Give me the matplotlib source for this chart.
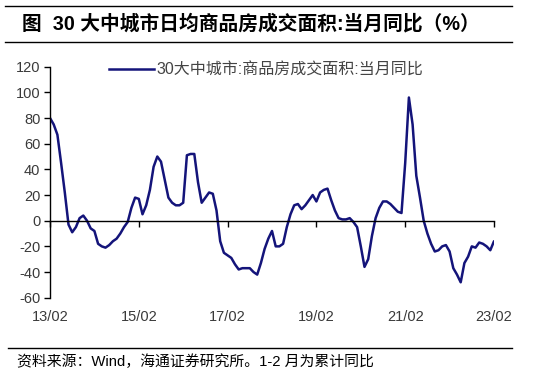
import matplotlib
matplotlib.use("Agg")
import matplotlib.pyplot as plt
from matplotlib.lines import Line2D

plt.rcParams['font.family'] = ['Liberation Sans', 'Noto Sans CJK SC', 'DejaVu Sans']

# monthly YoY (%), 2013-02 .. 2023-02
values = [80, 75, 67, 45, 22, -3, -9, -5, 2, 4, 0, -6, -8, -18, -20, -21, -19, -16, -14, -10,
          -5, -1, 10, 18, 17, 5, 12, 24, 42, 50, 46, 32, 18, 14, 12, 12, 14, 51, 52, 52,
          30, 14, 18, 22, 21, 8, -16, -25, -27, -29, -34, -38, -37, -37, -37, -40, -42, -33, -22, -14,
          -8, -20, -20, -18, -5, 5, 12, 13, 9, 12, 16, 20, 15, 22, 24, 25, 16, 8, 2, 1,
          1, 2, -1, -5, -20, -36, -30, -12, 2, 10, 15, 15, 13, 10, 7, 6, 45, 96, 75, 35,
          18, 0, -10, -18, -24, -23, -20, -19, -24, -37, -42, -48, -33, -28, -20, -21, -17, -18, -20, -23,
          -16]
tick_labels = ["13/02", "15/02", "17/02", "19/02", "21/02", "23/02"]
tick_pos = [0, 24, 48, 72, 96, 120]
yticks = [-60, -40, -20, 0, 20, 40, 60, 80, 100, 120]
series_name = "30大中城市:商品房成交面积:当月同比"
title = "图  30 大中城市日均商品房成交面积:当月同比（%）"
source = "资料来源：Wind，海通证券研究所。1-2 月为累计同比"

W, H = 549, 374
fig = plt.figure(figsize=(W / 100, H / 100), dpi=100)
ax = fig.add_axes([50 / W, 1 - 297.7 / H, (494 - 50) / W, (297.7 - 66.7) / H])

line_color = "#14147a"
ax.plot(range(len(values)), values, color=line_color, lw=1.8,
        solid_joinstyle='round', solid_capstyle='round')

ax.set_xlim(0, 120)
ax.set_ylim(-60, 120)
ax.set_yticks(yticks)
ax.set_yticklabels([str(v) for v in yticks])
ax.set_xticks(tick_pos)
ax.tick_params(axis='y', direction='out', length=4, width=1, labelsize=10.5,
               labelcolor='#3a3a3a', pad=3)
ax.tick_params(axis='x', direction='out', length=4, width=1, labelbottom=False)
for s in ['top', 'right']:
    ax.spines[s].set_visible(False)
ax.spines['bottom'].set_position(('data', 0))
ax.spines['left'].set_linewidth(1)
ax.spines['bottom'].set_linewidth(1)
for p, lab in zip(tick_pos, tick_labels):
    ax.text(p, -0.085, lab, transform=ax.get_xaxis_transform(), ha='center', va='center',
            fontsize=10.5, color='#3a3a3a')

ax.legend([Line2D([0], [0], color=line_color, lw=1.8)], [series_name],
          loc='upper left', bbox_to_anchor=((103 - 50) / (494 - 50), 1.045),
          frameon=False, fontsize=11.5, handlelength=2.8, handletextpad=0.15,
          labelcolor='#444444', borderaxespad=0)

# header / footer
fig.add_artist(Line2D([5 / W, 512 / W], [1 - 6 / H, 1 - 6 / H], color='black', lw=1))
fig.add_artist(Line2D([5 / W, 512 / W], [1 - 42 / H, 1 - 42 / H], color='black', lw=1))
fig.add_artist(Line2D([8 / W, 512 / W], [1 - 347.7 / H, 1 - 347.7 / H], color='black', lw=1))
fig.text(22 / W, 1 - 24 / H, title, ha='left', va='center', fontsize=14.2, fontweight='bold')
fig.text(17 / W, 1 - 361.5 / H, source, ha='left', va='center', fontsize=10.7)

fig.savefig("out.png", dpi=100)
